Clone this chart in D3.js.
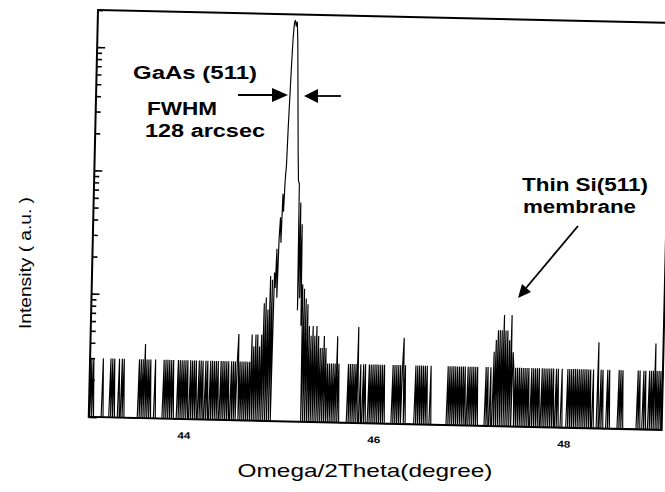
<!DOCTYPE html>
<html><head><meta charset="utf-8">
<script src="https://cdn.jsdelivr.net/npm/d3@7"></script>
<style>body{margin:0;background:#fff}svg{display:block}</style>
</head><body>
<svg id="c" width="665" height="492"></svg>
<script>
// Scan: Omega/2Theta from 43.00 deg in 0.01 deg steps (counts; 0 = no counts)
const xStart = 43.00, xStep = 0.01;
const scan43 = [3,0,3,0,3, 0,0,0,0,0,0,0,0,0, 3, 0,0,0,0,0,0,0, 3,0,3,0,3,0, 0,0,0, 3,0,0,3,0,3,0, 0,0,0,0,0,0,0,0,0,0,0,0,0,0, 3,0,3,0,3,0,4,0,3,0,3,0,3, 0,0,0,0, 3, 0,0,0,0,0,0,0,0, 3,0,3,0,3,0,3,0,3,0,3, 0,0,0,0, 3,0,3,0,3,0,3];
const scan44 = [0,3,0,3, 0,0, 3,0,3,0,3,0,3, 0,0, 3,0,3,0,3, 0,0, 3,0,3,0, 0, 3,0,3,0,3,0,3,0,3,0,0,3,0,3,0,3,0,3,0,3,0,0,3,0,3,0,3,0,3, 5, 0,3,0,3,0,3,0,3,0, 3,0,3,0,5,0,4,0,5,0,5,0,4,0,5,0, 9,0,10,0,8,0, 15,0,14,0,16, 12,25,10,30,45,28,70];
const scan45 = [50,90,120,250,450,800,1300,1700,1800,1600,1750,1200,600,300,150,90,85, 8,60,10,40,6,13,0, 12,0,10,0,9,0, 6,0,5,0,6,0,5,0,6,0,5,0,4, 0,4,0,5,0,4,0, 3,0,3,0,3,0,3,0,3,0,5,0,3,0, 0,0,0,0,0,0,0,0, 3,0,3,0,3,0,3,0,3,0, 6, 0,0,3,0,0, 3,0,3,0,0,0, 3,0,3,0,3,0];
const scan46 = [3,0,3,0,3,0,3,0,3, 0,3,0, 0,0,0,0,0,0,0, 3,0,3,0,3,0,3, 0, 3,0,3,5,0,3,0, 0,0,0,0,0,0,0,0,0, 3,0,3,0,3,0,3,0,3, 0,3,0,3,0,0, 0, 3,0,0, 0,0,0,0,0,0,0,0,0,0,0,0,0,0,0, 3,0,3,0,3,0,3,0,3,0,3,0,3,0,3, 0, 3,0,3,0, 0,3,0];
const scan47 = [3,0,3,0,3,0,3,0,3,0, 0,0,0,0,0,0,0, 3,0,3,0,0,3,0,0, 4,0,5,0,6,0,6,0,6,0,8,0,6,0,6,0,5,0,8,0,4, 3,0,3,0,3,0,3,0,3, 0, 3,0,3,0,3,0,3,0,0,3,0,3,0,3,0,3,0,3,0,0,3,0,3,0,3,0,3,0,3, 0,3,0,3,0,0,3,0,3, 0,0, 0,3,0,0];
const scan48 = [0,0,0, 3,0,3,0, 3,0,3,0,3,0,3,0,3,0,3,0,3,0,3,0,3,0, 3,0,3,0,0,3,0, 0,0,0, 5, 0,0, 3,0,3,0, 0,0,0, 3,0,3,0, 0,0,0,0,0,0,0,0, 3,0,3,0,3,0, 0,0,0,0,0,0,0,0,0,0,0,0,0,0, 3,0,3,0, 0,0, 3,0,3,0,0,0, 3,0,3,0,3,0,5,0,3,0, 3,0,3,0,3];
const xTicks = [44, 46, 48];
const xDomain = [43, 49.03];
const yDomain = [1, 2000];
const yMajor = [1, 10, 100, 1000];

const W = 573, H = 407;
const svg = d3.select("#c");
const font = "'Liberation Sans', Arial, Helvetica, sans-serif";
const g = svg.append("g").attr("transform", "translate(98,10) rotate(1.3)");

const x = d3.scaleLinear().domain(xDomain).range([0, W]);
const y = d3.scaleLog().domain(yDomain).range([H, 0]);

const values = [].concat(scan43, scan44, scan45, scan46, scan47, scan48);
const data = values.map((v, i) => ({x: xStart + i * xStep, v}));

const line = d3.line().x(d => x(d.x)).y(d => y(Math.max(d.v, yDomain[0])));
g.append("path").datum(data).attr("d", line)
  .attr("fill", "none").attr("stroke", "#000").attr("stroke-width", 1.15)
  .attr("stroke-linejoin", "miter");

// frame
g.append("rect").attr("x", 0).attr("y", 0).attr("width", W).attr("height", H)
  .attr("fill", "none").attr("stroke", "#000").attr("stroke-width", 2);

// y ticks (inside)
const minor = y.ticks().filter(t => !yMajor.includes(t));
g.append("g").call(d3.axisRight(y).tickValues(yMajor).tickSize(8).tickFormat(""))
  .call(s => s.select(".domain").remove())
  .selectAll("line").attr("stroke-width", 1.6);
g.append("g").call(d3.axisRight(y).tickValues(minor).tickSize(5).tickFormat(""))
  .call(s => s.select(".domain").remove())
  .selectAll("line").attr("stroke-width", 1.6);

// x tick labels
const xa = g.append("g").attr("transform", `translate(0,${H})`)
  .call(d3.axisBottom(x).tickValues(xTicks).tickSize(0).tickPadding(13).tickFormat(d3.format("d")));
xa.select(".domain").remove();
xa.selectAll("text").attr("font-family", font).attr("font-weight", "bold").attr("font-size", 9.5)
  .attr("textLength", 13).attr("lengthAdjust", "spacingAndGlyphs");

// axis titles
svg.append("text").attr("x", 365).attr("y", 477).attr("text-anchor", "middle")
  .attr("font-family", font).attr("font-size", 19)
  .attr("textLength", 255).attr("lengthAdjust", "spacingAndGlyphs")
  .text("Omega/2Theta(degree)");
svg.append("text").attr("transform", "translate(31,263) rotate(-90)").attr("text-anchor", "middle")
  .attr("font-family", font).attr("font-size", 16)
  .attr("textLength", 132).attr("lengthAdjust", "spacingAndGlyphs")
  .text("Intensity ( a.u. )");

// annotations
function label(txt, x0, y0, len) {
  svg.append("text").attr("x", x0).attr("y", y0).attr("font-family", font)
    .attr("font-weight", "bold").attr("font-size", 18)
    .attr("textLength", len).attr("lengthAdjust", "spacingAndGlyphs").text(txt);
}
label("GaAs (511)", 133, 79, 124);
label("FWHM", 147, 115, 70);
label("128 arcsec", 145, 137, 120);
label("Thin Si(511)", 522, 191, 126);
label("membrane", 523, 213, 113);

// arrows
svg.append("line").attr("x1", 238).attr("y1", 95).attr("x2", 275).attr("y2", 95)
  .attr("stroke", "#000").attr("stroke-width", 1.8);
svg.append("polygon").attr("points", "272,88 288,95 272,102").attr("fill", "#000");
svg.append("line").attr("x1", 315).attr("y1", 96).attr("x2", 341).attr("y2", 96)
  .attr("stroke", "#000").attr("stroke-width", 1.8);
svg.append("polygon").attr("points", "304,96 318,89 318,103").attr("fill", "#000");
svg.append("line").attr("x1", 578).attr("y1", 226).attr("x2", 526).attr("y2", 288)
  .attr("stroke", "#000").attr("stroke-width", 1.8);
svg.append("polygon").attr("points", "518,298 531,292 522,284").attr("fill", "#000");
</script>
</body></html>
